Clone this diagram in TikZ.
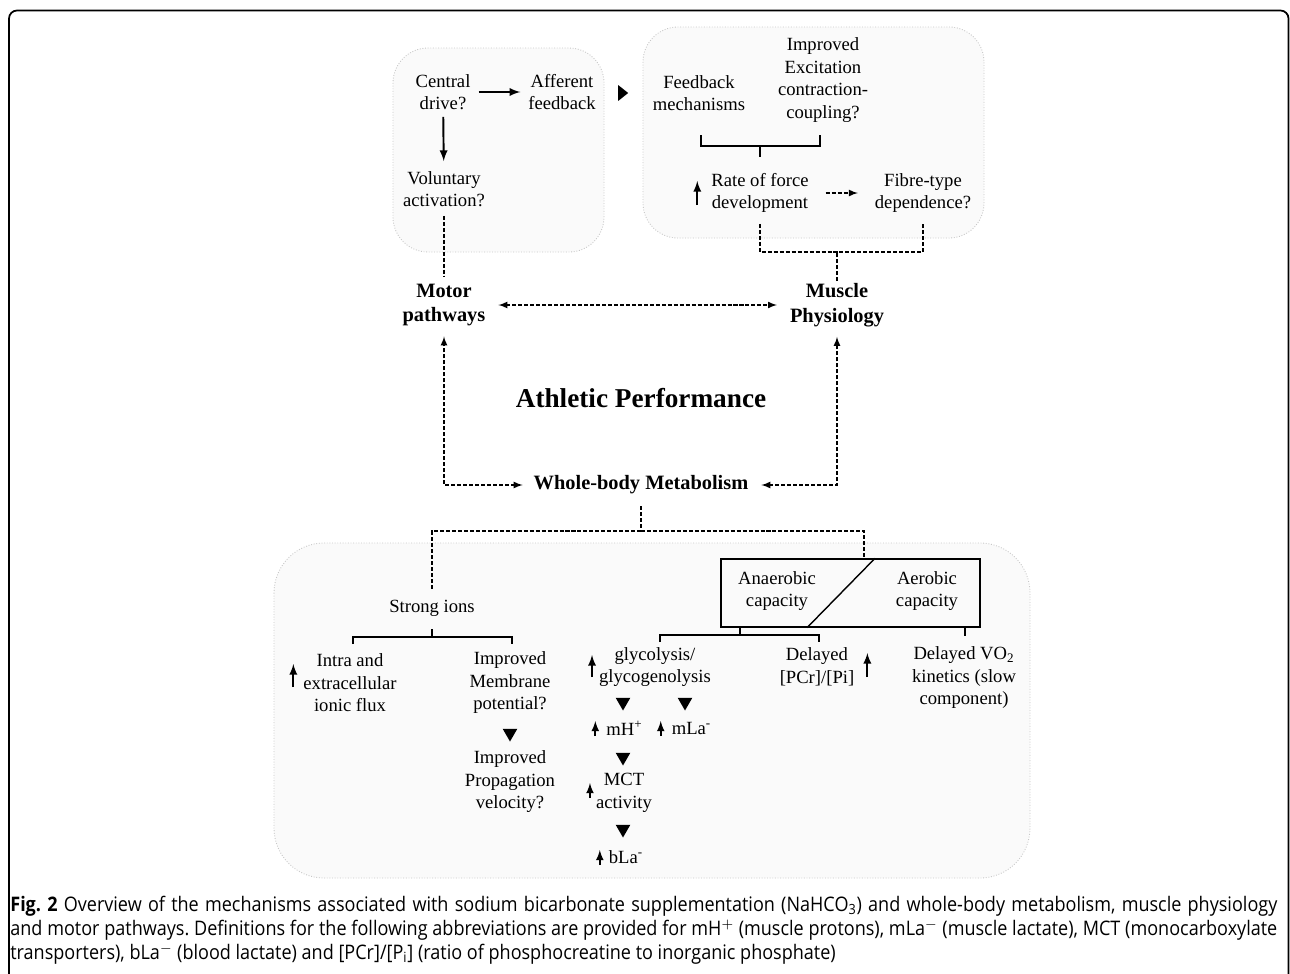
\documentclass[tikz,border=0pt]{standalone}
\usepackage{fontspec}
\setmainfont{Liberation Serif}
\newfontfamily\capfont[FakeStretch=0.9]{Open Sans}
\usepackage{tikz}
\usetikzlibrary{calc}
\usetikzlibrary{backgrounds}
\usetikzlibrary{arrows}
\usetikzlibrary{shapes.geometric}
\usetikzlibrary{positioning}
\frenchspacing
\tikzset{txt/.style={align=center,inner sep=1pt,font=\fontsize{10.6}{12.8}\selectfont}}
\tikzset{hub/.style={align=center,inner sep=1pt,font=\fontsize{11.6}{14.2}\selectfont\bfseries}}
\tikzset{panel/.style={fill=black!2,draw=black!22,densely dotted,line width=0.5pt}}
\tikzset{link/.style={line width=0.75pt,dash pattern=on 2.3pt off 1.1pt,>=latex}}
\tikzset{solidarrow/.style={line width=1.1pt,-latex}}
\tikzset{rise/.style={line width=1.1pt,-latex}}
\tikzset{smallrise/.style={line width=1pt,-latex}}
\tikzset{bar/.style={line width=1pt}}
\tikzset{dtri/.style={regular polygon,regular polygon sides=3,shape border rotate=180,fill=black,inner sep=0pt,minimum size=0.34cm}}
\tikzset{captxt/.style={anchor=base west,inner sep=0pt,font=\capfont\fontsize{11.4}{13.6}\selectfont}}

\begin{document}
\begin{tikzpicture}

\useasboundingbox[fill=white] (0,0) rectangle (25.8,-19.48);
\draw[line width=1pt,rounded corners=0.16cm] (0.18,-20.5) -- (0.18,-0.21) -- (25.77,-0.21) -- (25.77,-20.5);

% panels
\draw[panel,rounded corners=0.7cm] (7.86,-0.96) rectangle (12.08,-5.04);
\draw[panel,rounded corners=0.7cm] (12.86,-0.54) rectangle (19.68,-4.76);
\draw[panel,rounded corners=1cm] (5.48,-10.86) rectangle (20.6,-17.56);

% motor pathways panel
\node[txt] (cd) at (8.86,-1.84) {Central\\drive?};
\node[txt] (af) at (11.24,-1.84) {Afferent\\feedback};
\node[txt] (va) at (8.88,-3.78) {Voluntary\\activation?};
\draw[solidarrow,shorten <=0.12cm,shorten >=0.12cm] (cd) -- (af);
\draw[solidarrow,shorten <=0.1cm,shorten >=0.16cm] (cd) -- (va);
\node[isosceles triangle,isosceles triangle apex angle=77,fill=black,inner sep=0pt,minimum height=0.2cm] (go) at (12.44,-1.86) {};

% muscle physiology panel
\node[txt] (fbm) at (13.98,-1.86) {Feedback\\mechanisms};
\node[txt] (iec) at (16.46,-1.6) {Improved\\Excitation\\contraction-\\coupling?};
\node[txt] (rfd) at (15.2,-3.86) {Rate of force\\development};
\node[txt] (fib) at (18.46,-3.86) {Fibre-type\\dependence?};
\coordinate (brL) at (14.02,-2.7);
\coordinate (brR) at (16.4,-2.7);
\coordinate (brM) at (15.2,-2.92);
\draw[bar] (brL) |- (brM) -| (brR);
\draw[bar] (brM) -- ++(0,-0.22);
\draw[rise] ([xshift=-0.24cm,yshift=-0.24cm]rfd.west) -- ++(0,0.48);
\draw[link,->,shorten <=0.3cm,shorten >=0.3cm] (rfd) -- (fib);

% hubs
\node[hub] (mp) at (8.88,-6.1) {Motor\\pathways};
\node[hub] (ms) at (16.74,-6.1) {Muscle\\Physiology};
\node[align=center,inner sep=1pt,font=\fontsize{15.5}{18}\selectfont\bfseries] (ap) at (12.82,-7.96) {Athletic Performance};
\node[hub] (wb) at (12.82,-9.7) {Whole-body Metabolism};

\coordinate (mjoin) at (16.74,-5.04);
\draw[link] ([yshift=-0.18cm]rfd.south) |- (mjoin) -| ([yshift=-0.18cm]fib.south);
\draw[link] (ms) -- (mjoin);
\draw[link,shorten <=0.14cm,shorten >=0.1cm] (va) -- (mp);
\draw[link,<->,shorten <=0.22cm,shorten >=0.22cm] (mp) -- (ms);
\draw[link,<->,shorten <=0.18cm,shorten >=0.16cm] (wb) -| (mp);
\draw[link,<->,shorten <=0.22cm,shorten >=0.16cm] (wb) -| (ms);

% metabolism panel
\node[draw,line width=0.8pt,minimum width=5.18cm,minimum height=1.36cm,inner sep=0pt] (cap) at (17.01,-11.86) {};
\draw[line width=0.8pt] ([xshift=0.49cm]cap.north) -- ([xshift=-0.87cm]cap.south);
\node[txt] (ana) at (15.54,-11.82) {Anaerobic\\capacity};
\node[txt] (aer) at (18.54,-11.82) {Aerobic\\capacity};
\node[txt] (si) at (8.64,-12.16) {Strong ions};

\coordinate (bjoin) at (12.82,-10.62);
\draw[link,shorten <=0.2cm] (wb) -- (bjoin);
\draw[link,shorten <=0.18cm] (si) |- (bjoin);
\draw[link] (bjoin) -| ([xshift=0.27cm]cap.north);

\node[txt] (ion) at (7.0,-13.66) {Intra and\\extracellular\\ionic flux};
\node[txt] (mem) at (10.2,-13.66) {Improved\\Membrane\\potential?};
\node[dtri] (t1) at (10.2,-14.66) {};
\node[txt] (pro) at (10.2,-15.64) {Improved\\Propagation\\velocity?};
\draw[rise] ([xshift=-0.16cm,yshift=-0.08cm]ion.west) -- ++(0,0.46);

\coordinate (siL) at (7.06,-12.88);
\coordinate (siR) at (10.24,-12.88);
\coordinate (siM) at (8.64,-12.74);
\draw[bar] (siL) |- (siM) -| (siR);
\draw[bar] (siM) -- ++(0,0.16);

\node[txt] (gly) at (13.1,-13.34) {glycolysis/\\glycogenolysis};
\draw[rise] ([xshift=-0.1cm,yshift=-0.2cm]gly.west) -- ++(0,0.44);
\node[dtri] (t2) at (12.46,-14.04) {};
\node[dtri] (t3) at (13.7,-14.04) {};
\node[txt] (mh) at (12.49,-14.56) {mH\textsuperscript{+}};
\draw[smallrise] ([xshift=-0.18cm,yshift=-0.16cm]mh.west) -- ++(0,0.3);
\node[txt] (mla) at (13.83,-14.56) {mLa\textsuperscript{-}};
\draw[smallrise] ([xshift=-0.18cm,yshift=-0.16cm]mla.west) -- ++(0,0.3);
\node[dtri] (t4) at (12.46,-15.14) {};
\node[txt] (mct) at (12.48,-15.86) {MCT\\activity};
\draw[smallrise] ([xshift=-0.08cm,yshift=-0.1cm]mct.west) -- ++(0,0.3);
\node[dtri] (t5) at (12.46,-16.58) {};
\node[txt] (bla) at (12.52,-17.14) {bLa\textsuperscript{-}};
\draw[smallrise] ([xshift=-0.14cm,yshift=-0.16cm]bla.west) -- ++(0,0.3);

\node[txt] (pcr) at (16.34,-13.34) {Delayed\\{[PCr]/[Pi]}};
\draw[rise] ([xshift=0.22cm,yshift=-0.2cm]pcr.east) -- ++(0,0.48);
\node[txt] (vo) at (19.28,-13.56) {Delayed VO\textsubscript{2}\\kinetics (slow\\component)};

\coordinate (anL) at (13.2,-12.84);
\coordinate (anR) at (16.38,-12.84);
\coordinate (anM) at (14.8,-12.7);
\draw[bar] (anL) |- (anM) -| (anR);
\draw[bar] (anM) -- (anM |- cap.south);
\draw[bar] (cap.south -| 19.3,0) -- ++(0,-0.16);

% caption
\node[captxt] (cap1) at (0.2,-18.22) {\makebox[25.34cm][s]{\textbf{Fig. 2} Overview of the mechanisms associated with sodium bicarbonate supplementation (NaHCO\textsubscript{3}) and whole-body metabolism, muscle physiology}};
\node[captxt] (cap2) at (0.2,-18.7) {\makebox[25.34cm][s]{and motor pathways. Definitions for the following abbreviations are provided for mH$^{+}$ (muscle protons), mLa$^{-}$ (muscle lactate), MCT (monocarboxylate}};
\node[captxt] (cap3) at (0.2,-19.18) {transporters), bLa$^{-}$ (blood lactate) and [PCr]/[P\textsubscript{i}] (ratio of phosphocreatine to inorganic phosphate)};

\end{tikzpicture}
\end{document}
